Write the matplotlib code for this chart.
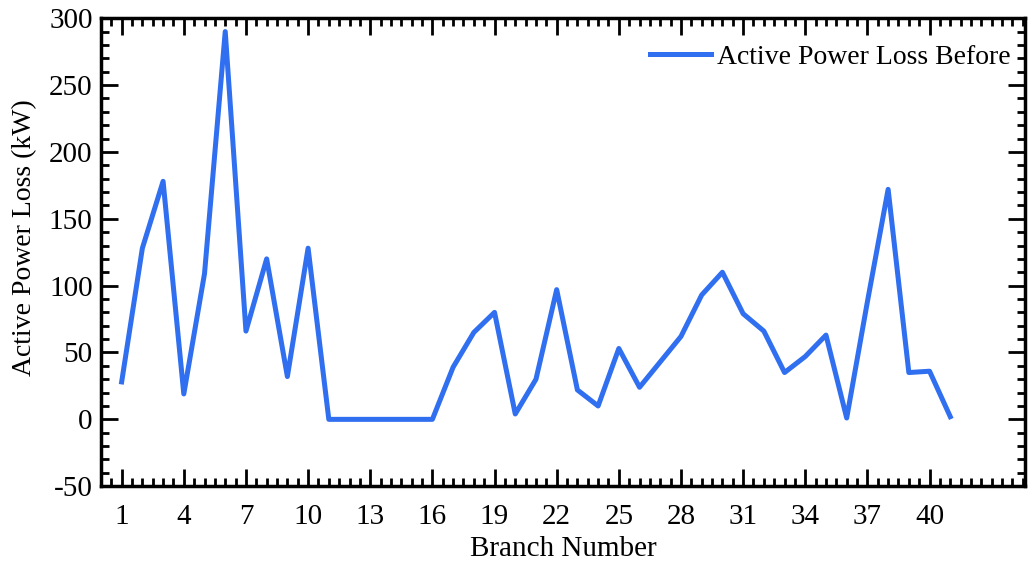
import matplotlib
matplotlib.use("Agg")
import matplotlib.pyplot as plt
from matplotlib.ticker import MultipleLocator

# branch numbers and losses
branch = list(range(1, 42))
loss_before = [28, 128, 178, 19, 109, 290, 66, 120, 32, 128,
               0, 0, 0, 0, 0, 0, 39, 65, 80, 4,
               30, 97, 22, 10, 53, 24, 43, 62, 93, 110,
               79, 66, 35, 47, 63, 1, 88, 172, 35, 36, 2]
xticks = list(range(1, 41, 3))
yticks = list(range(-50, 301, 50))

plt.rcParams['font.family'] = ['Liberation Serif', 'DejaVu Serif']
plt.rcParams['axes.unicode_minus'] = False

fig = plt.figure(figsize=(10.3, 5.68), dpi=100)
ax = fig.add_axes([0.098, 0.144, 0.897, 0.824])

ax.plot(branch, loss_before, color='#2f6ff0', linewidth=3.6,
        label='Active Power Loss Before')

ax.set_xlim(0, 44.6)
ax.set_ylim(-50, 300)
ax.set_xticks(xticks)
ax.set_yticks(yticks)
ax.xaxis.set_minor_locator(MultipleLocator(0.5))
ax.yaxis.set_minor_locator(MultipleLocator(10))
ax.tick_params(which='both', direction='in', top=True, right=True,
               labelsize=21, width=2, colors='black')
ax.tick_params(which='major', length=12)
ax.tick_params(which='minor', length=6)
ax.tick_params(axis='x', which='major', pad=13)
ax.tick_params(axis='y', which='major', pad=6)
for s in ax.spines.values():
    s.set_linewidth(2.5)

ax.set_xlabel('Branch Number', fontsize=21, labelpad=4)
ax.set_ylabel('Active Power Loss (kW)', fontsize=20)
ax.yaxis.set_label_coords(-0.069, 0.532)
ax.legend(loc='upper right', bbox_to_anchor=(1.016, 1.0064), frameon=False,
          fontsize=20, handlelength=2.2, handletextpad=0.2, borderaxespad=0.65)

fig.savefig('out.png', dpi=100)
